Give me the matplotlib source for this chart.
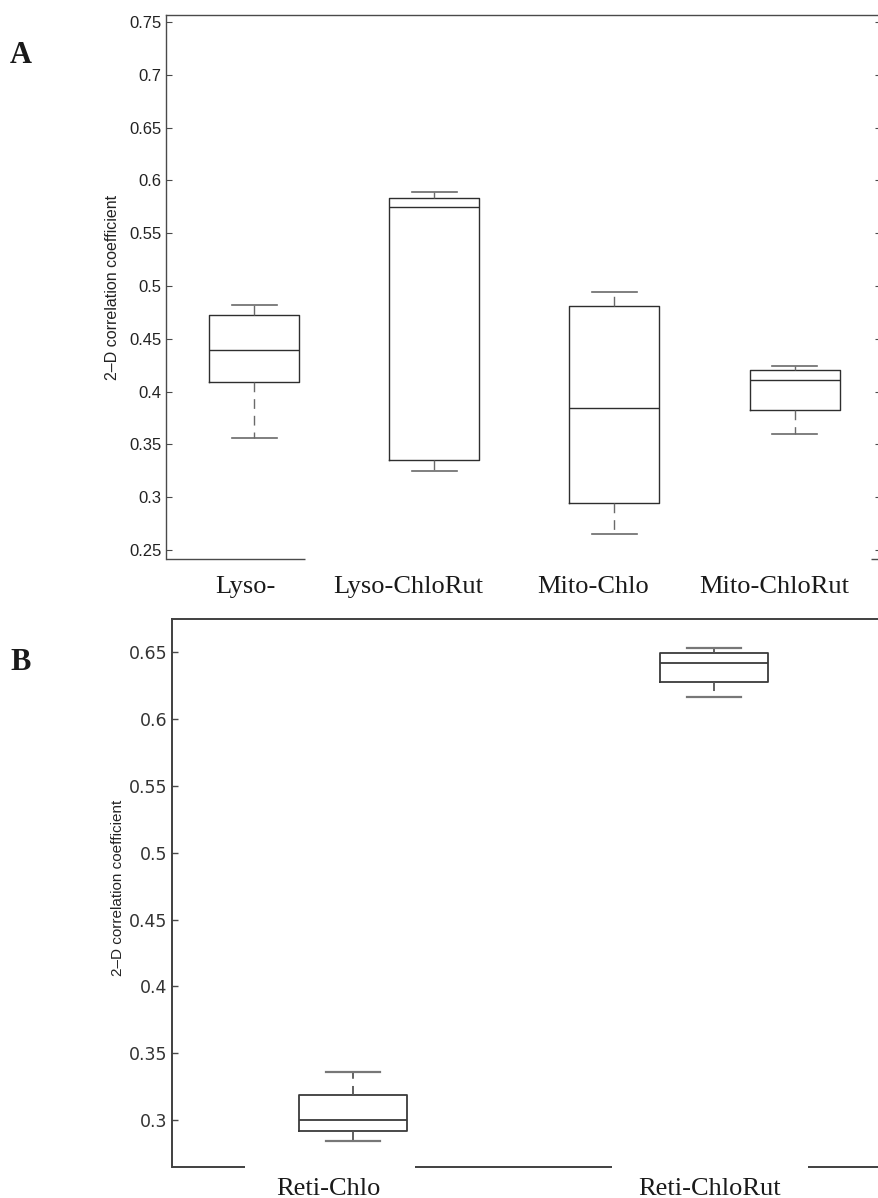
import matplotlib
matplotlib.use("Agg")
import matplotlib.pyplot as plt
from matplotlib.ticker import FixedLocator, FuncFormatter

# ---------------- data ----------------
cats_A = ["Lyso-", "Lyso-ChloRut", "Mito-Chlo", "Mito-ChloRut"]
whislo_A = [0.356, 0.3245, 0.265, 0.360]
q1_A     = [0.409, 0.3355, 0.2945, 0.3825]
med_A    = [0.4394, 0.575, 0.3845, 0.4108]
q3_A     = [0.4725, 0.583, 0.481, 0.4203]
whishi_A = [0.482, 0.589, 0.494, 0.4243]

cats_B = ["Reti-Chlo", "Reti-ChloRut"]
whislo_B = [0.2842, 0.6167]
q1_B     = [0.2917, 0.6275]
med_B    = [0.300, 0.642]
q3_B     = [0.3189, 0.6497]
whishi_B = [0.3356, 0.6534]

yticks_A = [0.25, 0.3, 0.35, 0.4, 0.45, 0.5, 0.55, 0.6, 0.65, 0.7, 0.75]
yticks_B = [0.3, 0.35, 0.4, 0.45, 0.5, 0.55, 0.6, 0.65]
ylabel = "2\u2013D correlation coefficient"

# ---------------- figure ----------------
W, H = 879, 1198
fig = plt.figure(figsize=(W / 100, H / 100), dpi=100)


def px_axes(left, top, right, bottom):
    return fig.add_axes([left / W, 1 - bottom / H, (right - left) / W, (bottom - top) / H])


def fmt(v, pos):
    s = ("%.2f" % v).rstrip("0").rstrip(".")
    return s


def make_stats(lo, q1, med, q3, hi):
    return [dict(whislo=a, q1=b, med=c, q3=d, whishi=e, fliers=[])
            for a, b, c, d, e in zip(lo, q1, med, q3, hi)]


box_col = "#2e2e2e"
cap_col = "#6a6a6a"
spine_col = "#4a4a4a"

# ---------------- panel A ----------------
axA = px_axes(166, 15, 881, 559)
statsA = make_stats(whislo_A, q1_A, med_A, q3_A, whishi_A)
axA.bxp(statsA, positions=range(1, len(cats_A) + 1), widths=0.5, capwidths=0.25,
        showfliers=False,
        boxprops=dict(color=box_col, linewidth=1.0),
        medianprops=dict(color=box_col, linewidth=1.0),
        whiskerprops=dict(color=cap_col, linewidth=1.0, linestyle=(0, (7, 5))),
        capprops=dict(color=cap_col, linewidth=1.2))
axA.set_xlim(0.51, 4.48)
axA.set_ylim(0.2415, 0.7566)
axA.yaxis.set_major_locator(FixedLocator(yticks_A))
axA.yaxis.set_major_formatter(FuncFormatter(fmt))
axA.set_xticks([])
axA.tick_params(axis="y", direction="in", length=4.5, width=0.8, color=spine_col,
                right=True, labelsize=12, pad=3, labelcolor="#222222")
for lab in axA.get_yticklabels():
    lab.set_family("Liberation Sans")
for s in ["left", "top", "right"]:
    axA.spines[s].set_color(spine_col)
    axA.spines[s].set_linewidth(1.0)
axA.spines["bottom"].set_visible(False)
for x0, x1 in [(0.0, 0.1944), (0.986, 1.0)]:
    axA.plot([x0, x1], [0, 0], transform=axA.transAxes, color=spine_col,
             linewidth=1.0, clip_on=False, solid_capstyle="butt")

# ---------------- panel B ----------------
axB = px_axes(172, 619, 895, 1166.7)
statsB = make_stats(whislo_B, q1_B, med_B, q3_B, whishi_B)
axB.bxp(statsB, positions=range(1, len(cats_B) + 1), widths=0.3, capwidths=0.15,
        showfliers=False,
        boxprops=dict(color="#3a3a3a", linewidth=1.3),
        medianprops=dict(color="#3a3a3a", linewidth=1.3),
        whiskerprops=dict(color="#555555", linewidth=1.3, linestyle=(0, (5, 4))),
        capprops=dict(color="#777777", linewidth=1.6))
axB.set_xlim(0.5, 2.5)
axB.set_ylim(0.265, 0.675)
axB.yaxis.set_major_locator(FixedLocator(yticks_B))
axB.yaxis.set_major_formatter(FuncFormatter(fmt))
axB.set_xticks([])
axB.tick_params(axis="y", direction="in", length=4.5, width=1.0, color=spine_col,
                right=True, labelsize=12.5, pad=3.5, labelcolor="#333333")
for s in ["left", "top", "right"]:
    axB.spines[s].set_color("#404040")
    axB.spines[s].set_linewidth(1.4)
axB.spines["bottom"].set_visible(False)
for x0, x1 in [(0.0, 0.101), (0.336, 0.6086), (0.8797, 1.0)]:
    axB.plot([x0, x1], [0, 0], transform=axB.transAxes, color="#404040",
             linewidth=1.4, clip_on=False, solid_capstyle="butt")

# ---------------- text ----------------
fig.text(113 / W, 1 - 287 / H, ylabel, rotation=90, ha="center", va="center",
         fontsize=11.5, family="Liberation Sans", color="#222222")
fig.text(118 / W, 1 - 888 / H, ylabel, rotation=90, ha="center", va="center",
         fontsize=11, family="Liberation Sans", color="#222222")

labx_A = [245, 408, 593, 774]
for name, x in zip(cats_A, labx_A):
    fig.text(x / W, 1 - 593 / H, name, ha="center", va="baseline",
             fontsize=19, family="Liberation Serif", color="#1a1a1a")
labx_B = [328.5, 710]
for name, x in zip(cats_B, labx_B):
    fig.text(x / W, 1 - 1195 / H, name, ha="center", va="baseline",
             fontsize=19, family="Liberation Serif", color="#1a1a1a")

fig.text(10 / W, 1 - 63 / H, "A", ha="left", va="baseline", fontsize=22,
         fontweight="bold", family="Liberation Serif", color="#1a1a1a")
fig.text(10 / W, 1 - 670 / H, "B", ha="left", va="baseline", fontsize=22,
         fontweight="bold", family="Liberation Serif", color="#1a1a1a")

fig.savefig("out.png", dpi=100)
